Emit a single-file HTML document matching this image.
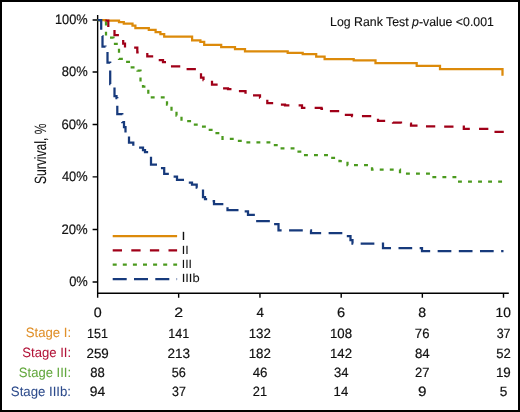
<!DOCTYPE html>
<html><head><meta charset="utf-8"><style>
html,body{margin:0;padding:0;background:#fff;}
body{width:520px;height:412px;overflow:hidden;position:relative;}
svg{position:absolute;left:0;top:0;display:block;will-change:transform;}
text{font-family:"Liberation Sans",sans-serif;text-rendering:geometricPrecision;fill:#111;stroke:#111;stroke-width:0.2px;}
</style></head><body>
<svg width="520" height="412" viewBox="0 0 520 412">
<rect x="1" y="1" width="518" height="410" fill="#fff" stroke="#000" stroke-width="2"/>
<g stroke="#000" stroke-width="1.4" fill="none">
<path d="M97.65,15.1 V297.8"/>
<path d="M97.65,293.2 H508.8"/>
<path d="M92.6,19.95 H97.65 M92.6,71.95 H97.65 M92.6,124.45 H97.65 M92.6,176.85 H97.65 M92.6,229.45 H97.65 M92.6,281.95 H97.65"/>
<path d="M178.65,293.2 V297.8 M259.95,293.2 V297.8 M341.2,293.2 V297.8 M422.35,293.2 V297.8 M503.5,293.2 V297.8"/>
</g>
<g fill="none" stroke-width="2.25" stroke-linejoin="miter">
<path stroke="#DC8A0A" d="M97.65,20 H105.6 V20.7 H119 V22 H123.8 V23.5 H132.5 V25.5 H135.4 V28 H148.8 V29.9 H155.6 V32.2 H160.4 V34.1 H164.2 V36.6 H192.1 V40.4 H200.4 V41.9 H204.2 V44.8 H221.2 V47.1 H235 V49 H245 V51.3 H287.7 V52.9 H302.7 V54.2 H316.2 V56.5 H324.6 V59.2 H353.7 V60.4 H375.5 V63.1 H416.7 V65.8 H440 V69.2 H502.5 V74.6 H503.6"/>
<path stroke="#A00018" stroke-dasharray="9.3 9.23" stroke-dashoffset="10.11" d="M97.65,20 H105 V20.7 H108.3 V28 H114.5 V35 H123.2 V43.5 H125 V47.5 H137.3 V52.3 H147.3 V56.3 H158 V60 H163 V62 H167 V66.3 H186.5 V69.2 H201 V77.5 H203.5 V80 H212 V84.5 H220 V88.3 H228 V89.2 H236 V91 H245.5 V92.5 H250 V95.4 H260 V97.7 H267.3 V103.1 H277 V104.6 H285 V105.4 H302 V107.9 H321.5 V108.8 H327 V111.2 H342 V114.8 H352 V116.2 H378 V120.8 H393 V122.5 H401 V123.5 H411 V125.5 H422 V126.3 H440 V126.6 H463.8 V128.8 H492 V131.9 H503.8"/>
<path stroke="#4B9A1E" stroke-dasharray="3.9 6.14" stroke-dashoffset="0.04" d="M97.65,20 H106 V37.7 H113.5 V43.9 H119 V58.9 H124 V61.8 H130.3 V67.3 H137.5 V70.5 H140.5 V84.5 H143 V86.5 H148.3 V97.4 H167 V104.5 H171.5 V111 H176.5 V115.5 H181.5 V121.2 H192.5 V124.6 H200 V126.5 H206.8 V129.8 H214 V133.1 H222.5 V138.8 H236 V140.8 H244 V142.3 H272 V145 H280 V148.3 H297 V151.5 H303.5 V155 H330.5 V157.9 H339.5 V161.2 H347.5 V165.2 H372 V169.6 H400 V173.5 H431 V177.2 H457.5 V181.7 H502.2"/>
<path stroke="#173A7C" stroke-dasharray="13.7 7.47" stroke-dashoffset="0.4" d="M97.65,20 H101.2 V36 H102.5 V46.5 H105.5 V52 H107.5 V62.5 H110.2 V84 H114.5 V96 H116.5 V98 H117.3 V114 H122.3 V122 H124 V127 H125.5 V132.5 H129 V142.5 H133.3 V146 H139 V147.5 H143 V150 H145 V152 H147 V154.3 H151 V164.5 H157.5 V168 H164.2 V173.8 H172 V176.5 H177 V179.8 H185 V182.5 H192 V184.5 H196.7 V187.7 H203 V197 H205 V199 H210 V201 H214 V204 H227.5 V210 H244.5 V211.3 H248 V214.8 H255.5 V221 H272 V224.2 H278.5 V230.4 H311 V233.2 H346.5 V236.2 H350.5 V240 H352.5 V243.5 H383 V248 H422 V251.2 H503.5"/>
</g>
<g fill="none" stroke-width="2.25">
<path stroke="#DC8A0A" d="M112.7,236.1 H177.1"/>
<path stroke="#A00018" stroke-dasharray="9.3 9.3" d="M112.7,250.4 H177.1"/>
<path stroke="#4B9A1E" stroke-dasharray="4 6.1" d="M112.7,264.7 H177.1"/>
<path stroke="#173A7C" stroke-dasharray="14 7.3" d="M112.7,279.1 H177.1"/>
</g>
<text x="54.97" y="24.00" font-size="13.74" textLength="32.69" lengthAdjust="spacingAndGlyphs">100%</text>
<text x="61.83" y="76.00" font-size="13.74" textLength="25.84" lengthAdjust="spacingAndGlyphs">80%</text>
<text x="61.38" y="129.00" font-size="13.74" textLength="26.30" lengthAdjust="spacingAndGlyphs">60%</text>
<text x="61.97" y="181.00" font-size="13.74" textLength="25.70" lengthAdjust="spacingAndGlyphs">40%</text>
<text x="61.49" y="234.00" font-size="13.74" textLength="26.19" lengthAdjust="spacingAndGlyphs">20%</text>
<text x="69.13" y="286.00" font-size="13.74" textLength="18.64" lengthAdjust="spacingAndGlyphs">0%</text>
<text x="330.12" y="26.00" font-size="12.60" textLength="163.78" lengthAdjust="spacingAndGlyphs" style="stroke-width:0.12px">Log Rank Test <tspan font-style="italic">p</tspan>-value &lt;0.001</text>
<text x="181.60" y="240.00" font-size="11.88" textLength="3.97" lengthAdjust="spacingAndGlyphs" style="stroke-width:0.05px">I</text>
<text x="181.76" y="254.00" font-size="11.88" textLength="6.90" lengthAdjust="spacingAndGlyphs" style="stroke-width:0.05px">II</text>
<text x="181.77" y="268.00" font-size="11.88" textLength="10.23" lengthAdjust="spacingAndGlyphs" style="stroke-width:0.05px">III</text>
<text x="181.71" y="282.00" font-size="11.88" textLength="17.95" lengthAdjust="spacingAndGlyphs" style="stroke-width:0.05px">IIIb</text>
<text x="93.67" y="317.00" font-size="13.46" textLength="7.94" lengthAdjust="spacingAndGlyphs">0</text>
<text x="174.36" y="317.00" font-size="13.46" textLength="8.86" lengthAdjust="spacingAndGlyphs">2</text>
<text x="256.40" y="317.00" font-size="13.46" textLength="7.43" lengthAdjust="spacingAndGlyphs">4</text>
<text x="336.98" y="317.00" font-size="13.46" textLength="8.14" lengthAdjust="spacingAndGlyphs">6</text>
<text x="418.38" y="317.00" font-size="13.46" textLength="7.83" lengthAdjust="spacingAndGlyphs">8</text>
<text x="495.58" y="317.00" font-size="13.46" textLength="15.29" lengthAdjust="spacingAndGlyphs">10</text>
<text x="87.02" y="338.00" font-size="13.46" textLength="20.96" lengthAdjust="spacingAndGlyphs">151</text>
<text x="168.17" y="338.00" font-size="13.46" textLength="20.96" lengthAdjust="spacingAndGlyphs">141</text>
<text x="248.71" y="338.00" font-size="13.46" textLength="22.26" lengthAdjust="spacingAndGlyphs">132</text>
<text x="330.02" y="338.00" font-size="13.46" textLength="22.04" lengthAdjust="spacingAndGlyphs">108</text>
<text x="414.87" y="338.00" font-size="13.46" textLength="14.57" lengthAdjust="spacingAndGlyphs">76</text>
<text x="496.69" y="338.00" font-size="13.46" textLength="13.81" lengthAdjust="spacingAndGlyphs">37</text>
<text x="86.45" y="358.00" font-size="13.46" textLength="22.32" lengthAdjust="spacingAndGlyphs">259</text>
<text x="167.50" y="358.00" font-size="13.46" textLength="22.53" lengthAdjust="spacingAndGlyphs">213</text>
<text x="248.71" y="358.00" font-size="13.46" textLength="22.26" lengthAdjust="spacingAndGlyphs">182</text>
<text x="330.02" y="358.00" font-size="13.46" textLength="22.04" lengthAdjust="spacingAndGlyphs">142</text>
<text x="414.91" y="358.00" font-size="13.46" textLength="14.74" lengthAdjust="spacingAndGlyphs">84</text>
<text x="496.31" y="358.00" font-size="13.46" textLength="14.57" lengthAdjust="spacingAndGlyphs">52</text>
<text x="90.36" y="377.00" font-size="13.46" textLength="14.53" lengthAdjust="spacingAndGlyphs">88</text>
<text x="171.73" y="377.00" font-size="13.46" textLength="14.10" lengthAdjust="spacingAndGlyphs">56</text>
<text x="252.70" y="377.00" font-size="13.46" textLength="14.80" lengthAdjust="spacingAndGlyphs">46</text>
<text x="333.91" y="377.00" font-size="13.46" textLength="14.53" lengthAdjust="spacingAndGlyphs">34</text>
<text x="415.08" y="377.00" font-size="13.46" textLength="14.40" lengthAdjust="spacingAndGlyphs">27</text>
<text x="495.90" y="377.00" font-size="13.46" textLength="14.90" lengthAdjust="spacingAndGlyphs">19</text>
<text x="89.78" y="396.00" font-size="13.46" textLength="15.44" lengthAdjust="spacingAndGlyphs">94</text>
<text x="171.99" y="396.00" font-size="13.46" textLength="13.81" lengthAdjust="spacingAndGlyphs">37</text>
<text x="252.83" y="396.00" font-size="13.46" textLength="14.29" lengthAdjust="spacingAndGlyphs">21</text>
<text x="333.62" y="396.00" font-size="13.46" textLength="14.62" lengthAdjust="spacingAndGlyphs">14</text>
<text x="418.05" y="396.00" font-size="13.46" textLength="8.48" lengthAdjust="spacingAndGlyphs">9</text>
<text x="499.69" y="396.00" font-size="13.46" textLength="7.60" lengthAdjust="spacingAndGlyphs">5</text>
<text x="25.77" y="337.00" font-size="13.46" textLength="45.33" lengthAdjust="spacingAndGlyphs" style="fill:#E0902A;stroke:#E0902A;stroke-width:0.05px">Stage I:</text>
<text x="22.27" y="357.00" font-size="13.46" textLength="48.81" lengthAdjust="spacingAndGlyphs" style="fill:#B3153A;stroke:#B3153A;stroke-width:0.05px">Stage II:</text>
<text x="18.87" y="377.00" font-size="13.46" textLength="52.19" lengthAdjust="spacingAndGlyphs" style="fill:#63A83E;stroke:#63A83E;stroke-width:0.05px">Stage III:</text>
<text x="10.86" y="396.00" font-size="13.46" textLength="60.18" lengthAdjust="spacingAndGlyphs" style="fill:#2E4C8C;stroke:#2E4C8C;stroke-width:0.05px">Stage IIIb:</text>
<text transform="translate(46.00,183.96) rotate(-90)" font-size="16.32" textLength="60.39" lengthAdjust="spacingAndGlyphs" style="stroke-width:0.08px">Survival, %</text>
</svg>
</body></html>
